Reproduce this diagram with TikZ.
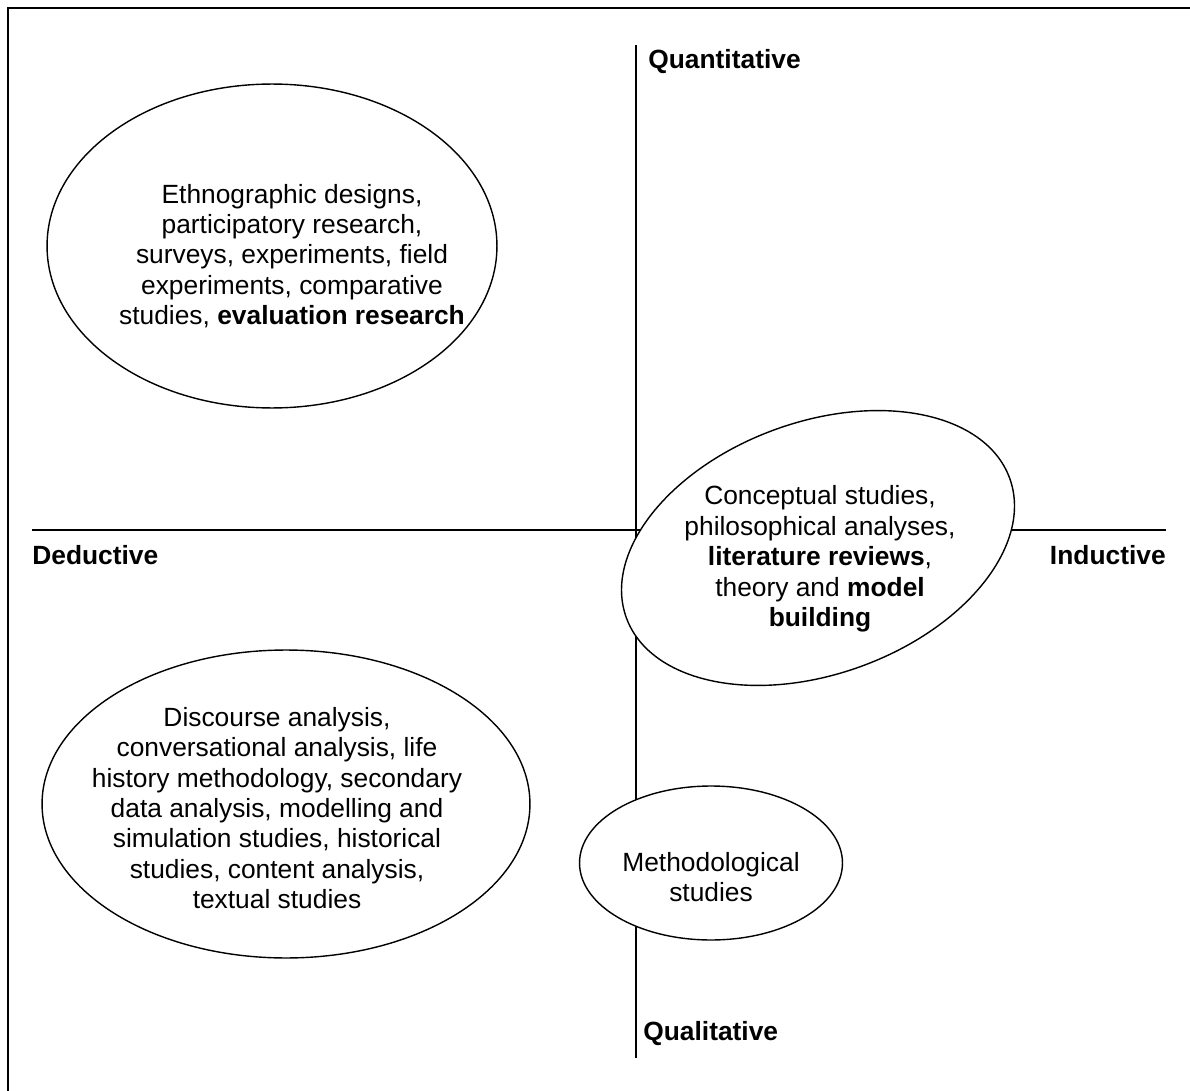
\documentclass[tikz,border=0pt]{standalone}
\usepackage{fontspec}
\setmainfont{Liberation Sans}
\usetikzlibrary{shapes.geometric}

\tikzset{
  axisline/.style={line width=1pt},
  ring/.style={draw, ellipse, fill=white, line width=0.8pt, inner sep=0pt},
  blobtext/.style={inner sep=0pt, align=center, font=\fontsize{15}{17.3}\selectfont},
  axislabel/.style={inner sep=0pt, font=\fontsize{15}{17.3}\selectfont\bfseries},
}

\begin{document}
\begin{tikzpicture}[x=0.02cm, y=-0.02cm]
\useasboundingbox (0,0) rectangle (1190,1091);
% frame, cut off right and bottom
\draw[line width=1.7pt] (8,1091) -- (8,8) -- (1190,8);

% axes
\coordinate (ytop) at (636,45);
\coordinate (ybot) at (636,1058);
\coordinate (xleft) at (32,530);
\coordinate (xright) at (1166,530);
\draw[axisline] (ytop) -- (ybot);
\draw[axisline] (xleft) -- (xright);

\node[axislabel, anchor=west] (quant) at (648,62) {Quantitative};
\node[axislabel, anchor=west] (qual) at (643,1034) {Qualitative};
\node[axislabel, anchor=west] (deduct) at (32,555) {Deductive};
\node[axislabel, anchor=east] (induct) at (1166,555) {Inductive};

% quadrants
\node[ring, minimum width=9cm, minimum height=6.48cm] (ethnoring) at (272,246) {};
\node[blobtext] (ethno) at (292,256)
  {Ethnographic designs,\\ participatory research,\\ surveys, experiments, field\\ experiments, comparative\\ studies, \textbf{evaluation research}};

\node[ring, minimum width=8.16cm, minimum height=5.04cm, rotate=20] (conceptring) at (818,548) {};
\node[blobtext] (concept) at (820,559)
  {Conceptual studies,\\ philosophical analyses,\\ \textbf{literature reviews},\\ theory and \textbf{model}\\ \textbf{building}};

\node[ring, minimum width=9.76cm, minimum height=6.16cm] (discoursering) at (286,804) {};
\node[blobtext] (discourse) at (277,808)
  {Discourse analysis,\\ conversational analysis, life\\ history methodology, secondary\\ data analysis, modelling and\\ simulation studies, historical\\ studies, content analysis,\\ textual studies};

\node[ring, minimum width=5.26cm, minimum height=3.08cm] (methodring) at (711,863) {};
\node[blobtext] (method) at (711,877) {Methodological\\ studies};
\end{tikzpicture}
\end{document}
